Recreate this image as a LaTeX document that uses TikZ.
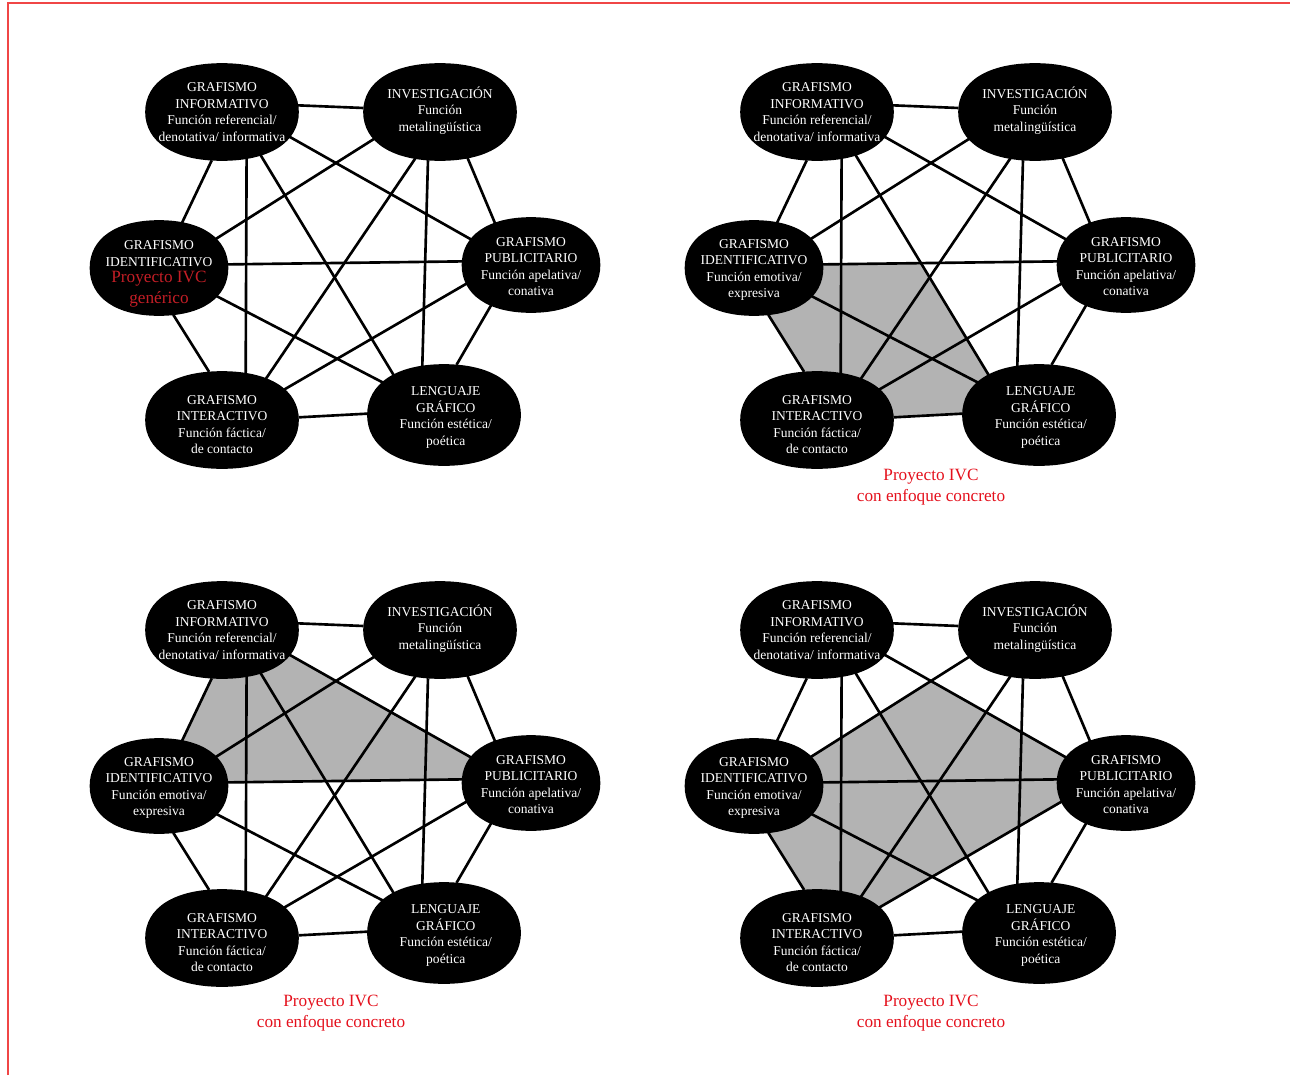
\documentclass[tikz,border=0pt]{standalone}
\usepackage{fontspec}
\setmainfont{Liberation Serif}
\usetikzlibrary{calc, shapes.geometric}

\definecolor{grisfondo}{RGB}{179,179,179}
\definecolor{rojotexto}{RGB}{228,16,28}
\definecolor{rojoidea}{RGB}{196,30,38}
\definecolor{rojomarco}{RGB}{240,70,70}

\pgfdeclarelayer{sombra}
\pgfdeclarelayer{red}
\pgfsetlayers{sombra,red,main}

% mancha negra alrededor de un nodo
\newcommand{\mancha}[1]{%
  \fill let \p0=(#1.center), \p1=(#1.east), \p2=(#1.north) in
    (#1.east) .. controls +(0pt,{0.62*(\y2-\y0)}) and +({0.62*(\x1-\x0)},0pt) .. (#1.north)
    .. controls +({-0.62*(\x1-\x0)},0pt) and +(0pt,{0.62*(\y2-\y0)}) .. (#1.west)
    .. controls +(0pt,{-0.62*(\y2-\y0)}) and +({-0.62*(\x1-\x0)},0pt) .. (#1.south)
    .. controls +({0.62*(\x1-\x0)},0pt) and +(0pt,{-0.62*(\y2-\y0)}) .. (#1.east) -- cycle;}

% un mapa de seis funciones
\newcommand{\mapa}[4]{%
\begin{scope}[shift={#2}]
\node[idea, label={[texto]center:{GRAFISMO\\INFORMATIVO\\Función referencial/\\denotativa/ informativa}}] (#1inf) at (222,112) {};
\node[idea, label={[texto, yshift=1pt]center:{INVESTIGACIÓN\\Función\\metalingüística}}] (#1inv) at (440,112) {};
\node[idea corta, label={[texto, #3]center:{#4}}] (#1ide) at (159,268) {};
\node[idea corta, label={[texto, yshift=-1pt]center:{GRAFISMO\\PUBLICITARIO\\Función apelativa/\\conativa}}] (#1pub) at (531,265) {};
\node[idea, label={[texto, yshift=-2.5pt]center:{GRAFISMO\\INTERACTIVO\\Función fáctica/\\de contacto}}] (#1int) at (222,420) {};
\node[idea, minimum height=2.02cm, label={[texto, xshift=1pt, yshift=-1.5pt]center:{LENGUAJE\\GRÁFICO\\Función estética/\\poética}}] (#1len) at (444,415) {};

\begin{pgfonlayer}{red}
\draw[enlace] (#1inf.5) -- (#1inv.177);
\draw[enlace] (#1inf.-102) -- (#1ide.63);
\draw[enlace] (#1inf.-62) -- (#1int.63);
\draw[enlace] (#1inf.-48) -- (#1len.142);
\draw[enlace] (#1inf.-20) -- (#1pub.157);
\draw[enlace] (#1inv.-158) -- (#1ide.27);
\draw[enlace] (#1inv.-118) -- (#1int.43);
\draw[enlace] (#1inv.-104) -- (#1len.114);
\draw[enlace] (#1inv.-59) -- (#1pub.131);
\draw[enlace] (#1ide.3) -- (#1pub.177);
\draw[enlace] (#1ide.-73) -- (#1int.105);
\draw[enlace] (#1ide.-26) -- (#1len.152);
\draw[enlace] (#1pub.-164) -- (#1int.26);
\draw[enlace] (#1pub.-135) -- (#1len.76);
\draw[enlace] (#1int.2) -- (#1len.179);
\foreach \cual in {inf,inv,ide,pub,int,len} {\mancha{#1\cual}}
\end{pgfonlayer}
\end{scope}}

\begin{document}
\begin{tikzpicture}[
    x=0.02cm, y=-0.02cm,
    idea/.style={ellipse, inner sep=0pt, minimum width=3.06cm, minimum height=1.94cm},
    idea corta/.style={idea, minimum width=2.76cm, minimum height=1.9cm},
    texto/.style={align=center, text=white, inner sep=0pt, font=\fontsize{7.7pt}{9.4pt}\selectfont},
    enlace/.style={line width=1.5pt, black},
    nota/.style={align=center, text=rojotexto, inner sep=0pt, font=\fontsize{9.8pt}{11.8pt}\selectfont},
    marco/.style={draw=rojomarco, line width=0.6pt},
]
\useasboundingbox (0,0) rectangle (1290,1075);
\draw[marco] (8,1075) -- (8,3) -- (1290,3);

\mapa{a}{(0,0)}{yshift=-3.5pt}{GRAFISMO\\IDENTIFICATIVO\\{\color{rojoidea}\fontsize{9.8pt}{11.8pt}\selectfont Proyecto IVC}\\[2.5pt]{\color{rojoidea}\fontsize{9.8pt}{11.8pt}\selectfont genérico}}
\mapa{b}{(595,0)}{yshift=-1pt}{GRAFISMO\\IDENTIFICATIVO\\Función emotiva/\\expresiva}
\mapa{c}{(0,518)}{yshift=-1pt}{GRAFISMO\\IDENTIFICATIVO\\Función emotiva/\\expresiva}
\mapa{d}{(595,518)}{yshift=-1pt}{GRAFISMO\\IDENTIFICATIVO\\Función emotiva/\\expresiva}

% zonas del proyecto concreto
\begin{pgfonlayer}{sombra}
\fill[grisfondo] (bide.3) -- (intersection of bide.3--bpub.177 and binf.-48--blen.142)
    -- (blen.142) -- (blen.179) -- (bint.2) -- (bint.105) -- (bide.-73) -- cycle;
\fill[grisfondo] (cinf.-102) -- (cide.63) -- (cide.3) -- (cpub.177) -- (cpub.157) -- (cinf.-20) -- cycle;
\fill[grisfondo] (dide.27) -- (intersection of dide.27--dinv.-158 and dinf.-20--dpub.157)
    -- (dpub.157) -- (dpub.-164) -- (dint.26) -- (dint.105) -- (dide.-73) -- cycle;
\end{pgfonlayer}

\node[nota] (notab) at (931,487) {Proyecto IVC\\con enfoque concreto};
\node[nota] (notac) at (331,1013) {Proyecto IVC\\con enfoque concreto};
\node[nota] (notad) at (931,1013) {Proyecto IVC\\con enfoque concreto};
\end{tikzpicture}
\end{document}
